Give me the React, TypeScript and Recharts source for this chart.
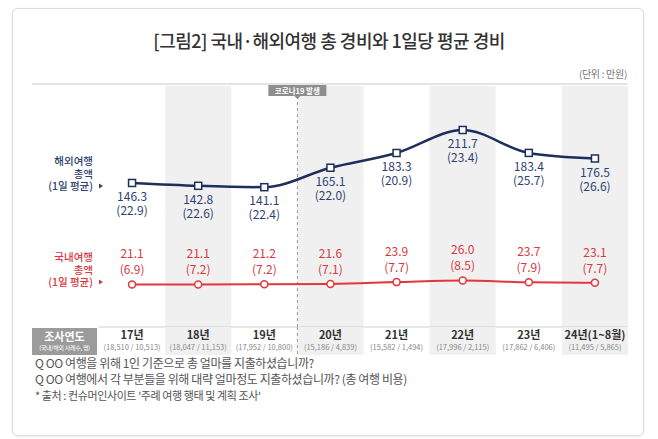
import { ComposedChart, Line, XAxis, YAxis, ReferenceArea, ReferenceLine, LabelList } from "recharts";

const years = ["17년", "18년", "19년", "20년", "21년", "22년", "23년", "24년(1~8월)"];
const sampleSizes = [
  "(18,510 / 10,513)",
  "(18,047 / 11,153)",
  "(17,952 / 10,800)",
  "(15,186 / 4,839)",
  "(15,582 / 1,494)",
  "(17,996 / 2,115)",
  "(17,862 / 6,406)",
  "(11,495 / 5,865)",
];
const overseasTotal = [146.3, 142.8, 141.1, 165.1, 183.3, 211.7, 183.4, 176.5];
const overseasDaily = [22.9, 22.6, 22.4, 22.0, 20.9, 23.4, 25.7, 26.6];
const domesticTotal = [21.1, 21.1, 21.2, 21.6, 23.9, 26.0, 23.7, 23.1];
const domesticDaily = [6.9, 7.2, 7.2, 7.1, 7.7, 8.5, 7.9, 7.7];
const shadedYears = ["18년", "20년", "22년", "24년(1~8월)"];
const covidYear = "20년";
const covidLabel = "코로나19 발생";

const FONT = "'Noto Sans CJK KR', 'Noto Sans', sans-serif";
const NAVY = "#1e2f5c";
const NAVY_TEXT = "#2d4272";
const RED = "#e2373d";
const RED_TEXT = "#d8383e";
const SHADE = "#f0f0f0";

const data = years.map((year, i) => ({
  year,
  overseas: overseasTotal[i],
  domestic: domesticTotal[i],
}));

function SquareDot(props: any) {
  const { cx, cy } = props;
  if (cx == null || cy == null) return null;
  return <rect x={cx - 3.5} y={cy - 3.5} width={7} height={7} fill="#fff" stroke={NAVY} strokeWidth={1.5} />;
}

function CircleDot(props: any) {
  const { cx, cy } = props;
  if (cx == null || cy == null) return null;
  return <circle cx={cx} cy={cy} r={3.5} fill="#fff" stroke={RED} strokeWidth={1.5} />;
}

function OverseasLabel(props: any) {
  const { x, y, index } = props;
  return (
    <g fontFamily={FONT} fontSize={12} fill={NAVY_TEXT} textAnchor="middle">
      <text x={x} y={y + 18}>{overseasTotal[index].toFixed(1)}</text>
      <text x={x} y={y + 32}>({overseasDaily[index].toFixed(1)})</text>
    </g>
  );
}

function DomesticLabel(props: any) {
  const { x, y, index } = props;
  return (
    <g fontFamily={FONT} fontSize={12} fill={RED_TEXT} textAnchor="middle">
      <text x={x} y={y - 26}>{domesticTotal[index].toFixed(1)}</text>
      <text x={x} y={y - 10}>({domesticDaily[index].toFixed(1)})</text>
    </g>
  );
}

function YearTick(props: any) {
  const { x, y, payload, index } = props;
  const half = payload && payload.offset ? payload.offset : 33;
  const shaded = shadedYears.includes(payload.value);
  return (
    <g>
      {shaded && <rect x={x - half} y={y} width={half * 2} height={28} fill={SHADE} />}
      {payload.value === covidYear && (
        <line x1={x - half} x2={x - half} y1={y} y2={y + 28} stroke="#9a9a9a" strokeDasharray="3 3" />
      )}
      <text x={x} y={y + 12} textAnchor="middle" fontFamily={FONT} fontSize={11} fontWeight={700} fill="#333">
        {payload.value}
      </text>
      <text x={x} y={y + 23} textAnchor="middle" fontFamily={FONT} fontSize={7.5} fill="#888">
        {sampleSizes[index]}
      </text>
    </g>
  );
}

function CovidLabel(props: any) {
  const { viewBox } = props;
  const x = viewBox.x;
  const y = viewBox.y;
  return (
    <g>
      <rect x={x - 29} y={y - 1} width={58} height={11} fill="#8e8e8e" />
      <path d={`M${x - 3},${y + 10} L${x + 3},${y + 10} L${x},${y + 13} Z`} fill="#8e8e8e" />
      <text x={x} y={y + 7.5} textAnchor="middle" fontFamily={FONT} fontSize={7.5} fontWeight={700} fill="#fff">
        {covidLabel}
      </text>
    </g>
  );
}

// series name on the left, three lines in svg
function SeriesName({ color, top, first }: { color: string; top: number; first: string }) {
  return (
    <svg width={110} height={50} style={{ position: "absolute", left: 0, top: top - 8 }}>
      <g fontFamily={FONT} fontSize={10.5} fontWeight={500} fill={color} textAnchor="end">
        <text x={93} y={18}>{first}</text>
        <text x={93} y={30.5}>총액</text>
        <text x={93} y={43}>(1일 평균)</text>
      </g>
      <path d="M99,36.5 L103,39 L99,41.5 Z" fill={color} />
    </svg>
  );
}

export default function App() {
  return (
    <div
      style={{
        position: "fixed",
        left: 0,
        top: 0,
        width: 658,
        height: 439,
        background: "#fff",
        fontFamily: FONT,
        overflow: "hidden",
      }}
    >
      {/* card */}
      <div
        style={{
          position: "absolute",
          left: 12,
          top: 8,
          width: 632,
          height: 428,
          border: "1px solid #dcdcdc",
          borderRadius: 6,
          boxShadow: "0 1px 3px rgba(0,0,0,0.08)",
          boxSizing: "border-box",
        }}
      />
      <div
        style={{
          position: "absolute",
          top: 27,
          left: 0,
          width: 658,
          textAlign: "center",
          fontSize: 18,
          fontWeight: 500,
          letterSpacing: -0.5,
          color: "#333",
        }}
      >
        [그림2] 국내·해외여행 총 경비와 1일당 평균 경비
      </div>
      <div style={{ position: "absolute", right: 31, top: 66, fontSize: 10, color: "#777", letterSpacing: -0.3 }}>
        (단위 : 만원)
      </div>
      <div style={{ position: "absolute", left: 32, top: 83, width: 595, height: 2, background: "#e3e3e3" }} />

      <div style={{ position: "absolute", left: 0, top: 0 }}>
        <ComposedChart width={658} height={439} data={data} margin={{ top: 86, right: 30, bottom: 84, left: 99 }}>
          {shadedYears.map((y) => (
            <ReferenceArea key={y} x1={y} x2={y} fill={SHADE} fillOpacity={1} stroke="none" ifOverflow="visible" />
          ))}
          <XAxis
            dataKey="year"
            scale="band"
            height={28}
            tickSize={0}
            tickMargin={0}
            tickLine={false}
            axisLine={{ stroke: "#cfcfcf" }}
            interval={0}
            tick={<YearTick />}
          />
          <YAxis hide type="number" domain={[-31.5, 266]} />
          <ReferenceLine
            x={covidYear}
            position="start"
            stroke="#9a9a9a"
            strokeDasharray="3 3"
            label={<CovidLabel />}
          />
          <Line
            type="monotone"
            dataKey="overseas"
            stroke={NAVY}
            strokeWidth={2.5}
            dot={<SquareDot />}
            activeDot={false}
            isAnimationActive={false}
          >
            <LabelList dataKey="overseas" content={<OverseasLabel />} />
          </Line>
          <Line
            type="monotone"
            dataKey="domestic"
            stroke={RED}
            strokeWidth={2}
            dot={<CircleDot />}
            activeDot={false}
            isAnimationActive={false}
          >
            <LabelList dataKey="domestic" content={<DomesticLabel />} />
          </Line>
        </ComposedChart>
      </div>

      <SeriesName color={NAVY_TEXT} top={155} first="해외여행" />
      <SeriesName color={RED_TEXT} top={251} first="국내여행" />

      <div
        style={{
          position: "absolute",
          left: 32,
          top: 328,
          width: 65,
          height: 27,
          background: "#9b9b9b",
          color: "#fff",
          textAlign: "center",
        }}
      >
        <div style={{ fontSize: 11, fontWeight: 700, lineHeight: "14px", marginTop: 1 }}>조사연도</div>
        <div style={{ fontSize: 6, lineHeight: "9px", whiteSpace: "nowrap", letterSpacing: -0.3 }}>(국내/해외 사례수, 명)</div>
      </div>

      <div style={{ position: "absolute", left: 35, top: 355, fontSize: 12, lineHeight: "16px", color: "#555", letterSpacing: -0.4 }}>
        <div>Q OO 여행을 위해 1인 기준으로 총 얼마를 지출하셨습니까?</div>
        <div>Q OO 여행에서 각 부분들을 위해 대략 얼마정도 지출하셨습니까? (총 여행 비용)</div>
        <div style={{ fontSize: 11 }}>* 출처 : 컨슈머인사이트 '주례 여행 행태 및 계획 조사'</div>
      </div>
    </div>
  );
}
